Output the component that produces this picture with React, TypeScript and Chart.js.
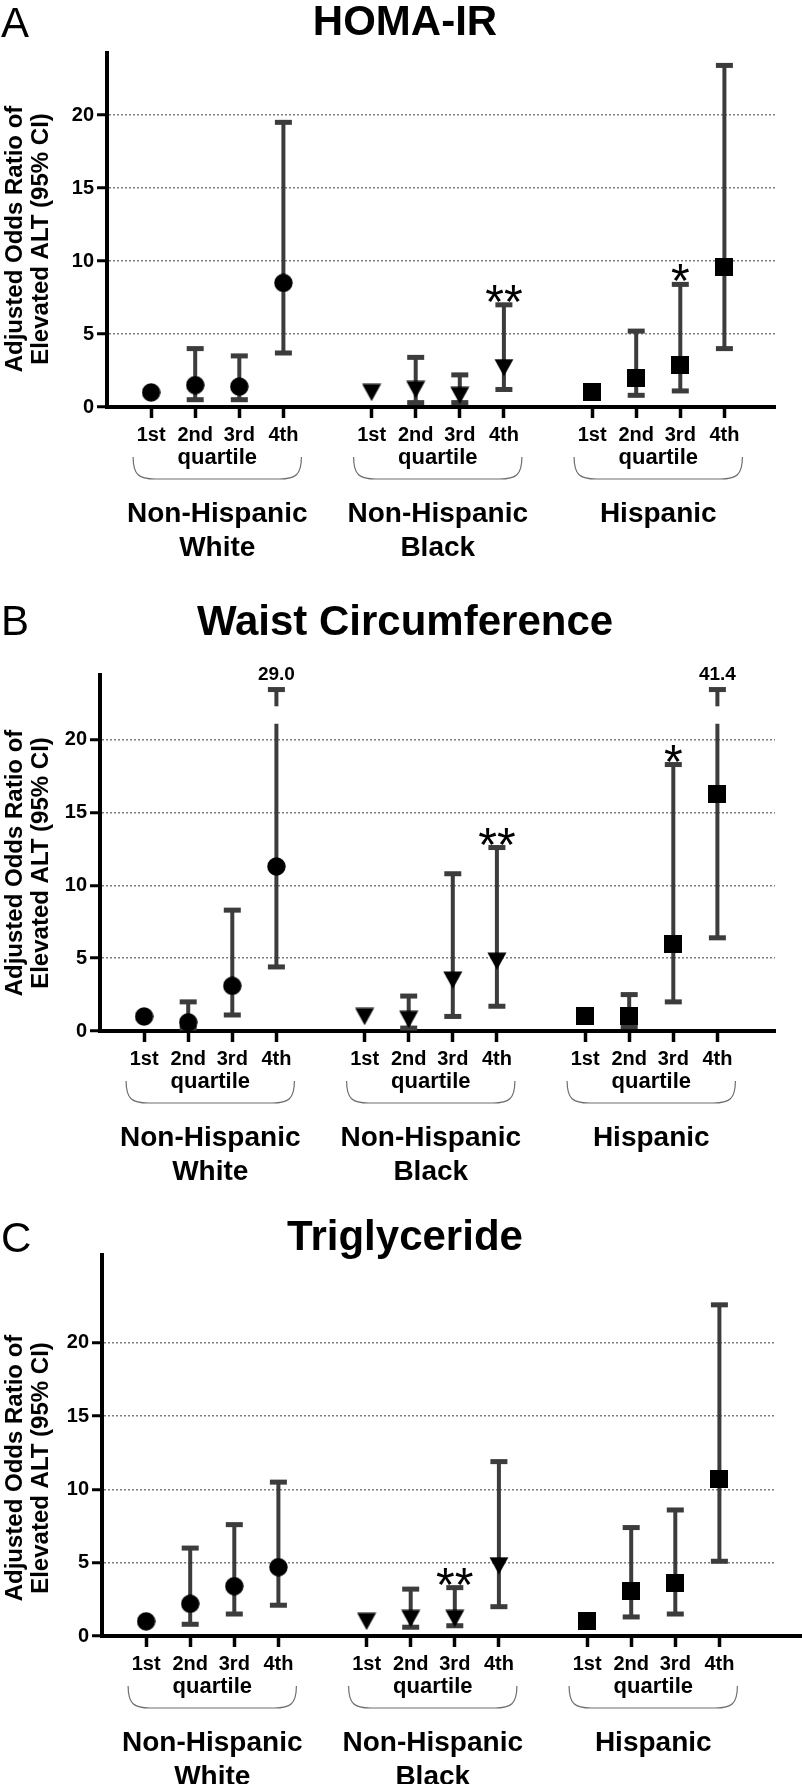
import React, { useEffect, useRef } from "react";
import { Chart, registerables } from "chart.js";

Chart.register(...registerables);

// ---------------- data ----------------
const quartileLabels = ["1st", "2nd", "3rd", "4th", "1st", "2nd", "3rd", "4th", "1st", "2nd", "3rd", "4th"];
const groupNames = [["Non-Hispanic", "White"], ["Non-Hispanic", "Black"], ["Hispanic"]];
const xPositions = [0, 1, 2, 3, 5, 6, 7, 8, 10, 11, 12, 13];
const yTickValues = [0, 5, 10, 15, 20];
const yAxisTitle = ["Adjusted Odds Ratio of", "Elevated ALT (95% CI)"];

const homaOR = [1.0, 1.5, 1.4, 8.5, 1.0, 1.2, 0.8, 2.7, 1.0, 2.0, 2.9, 9.6];
const homaLow = [null, 0.5, 0.5, 3.7, null, 0.3, 0.3, 1.2, null, 0.8, 1.1, 4.0];
const homaHigh = [null, 4.0, 3.5, 19.5, null, 3.4, 2.2, 7.0, null, 5.2, 8.4, 23.4];
const homaSig = ["", "", "", "", "", "", "", "**", "", "", "*", ""];

const waistOR = [1.0, 0.6, 3.1, 11.3, 1.0, 0.8, 3.5, 4.8, 1.0, 1.0, 6.0, 16.3];
const waistLow = [null, 0.2, 1.1, 4.4, null, 0.2, 1.0, 1.7, null, 0.3, 2.0, 6.4];
const waistHigh = [null, 2.0, 8.3, 29.0, null, 2.4, 10.8, 12.6, null, 2.5, 18.3, 41.4];
const waistSig = ["", "", "", "", "", "", "", "**", "", "", "*", ""];

const trigOR = [1.0, 2.2, 3.4, 4.7, 1.0, 1.2, 1.2, 4.8, 1.0, 3.1, 3.6, 10.7];
const trigLow = [null, 0.8, 1.5, 2.1, null, 0.6, 0.7, 2.0, null, 1.3, 1.5, 5.1];
const trigHigh = [null, 6.0, 7.6, 10.5, null, 3.2, 3.3, 11.9, null, 7.4, 8.6, 22.6];
const trigSig = ["", "", "", "", "", "", "**", "", "", "", "", ""];

// axis-break styling (value positions where the broken whisker is drawn)
const BREAK_LOW = 21.1;
const BREAK_HIGH = 22.3;
const BREAK_CAP = 23.45;

// ---------------- layout ----------------
const FONT = "'Liberation Sans', Arial, Helvetica, sans-serif";
const BAR_COLOR = "#3c3c3c";

type PanelCfg = {
  letter: string;
  title: string;
  or: number[];
  low: (number | null)[];
  high: (number | null)[];
  sig: string[];
  height: number;
  area: { left: number; top: number; right: number; bottom: number };
  yMax: number;
  titleBase: number;
  letterBase: number;
  extendAxis: boolean;
};

const panels: PanelCfg[] = [
  {
    letter: "A", title: "HOMA-IR", or: homaOR, low: homaLow, high: homaHigh, sig: homaSig,
    height: 590, area: { left: 107, top: 53, right: 775, bottom: 407 }, yMax: 24.25,
    titleBase: 35, letterBase: 37, extendAxis: false,
  },
  {
    letter: "B", title: "Waist Circumference", or: waistOR, low: waistLow, high: waistHigh, sig: waistSig,
    height: 590, area: { left: 100, top: 85, right: 775, bottom: 441 }, yMax: 24.45,
    titleBase: 45, letterBase: 45, extendAxis: false,
  },
  {
    letter: "C", title: "Triglyceride", or: trigOR, low: trigLow, high: trigHigh, sig: trigSig,
    height: 604, area: { left: 102, top: 75, right: 775, bottom: 456 }, yMax: 26.0,
    titleBase: 70, letterBase: 72, extendAxis: true,
  },
];

function makeMarker(kind: string): HTMLCanvasElement {
  const c = document.createElement("canvas");
  const ctx = c.getContext("2d")!;
  if (kind === "circle") {
    c.width = 19; c.height = 19;
    ctx.fillStyle = "#000";
    ctx.beginPath();
    ctx.ellipse(9.5, 9.5, 9.2, 9.2, 0, 0, Math.PI * 2);
    ctx.fill();
  } else if (kind === "triangle") {
    c.width = 20; c.height = 18;
    ctx.fillStyle = "#000";
    ctx.beginPath();
    ctx.moveTo(0.5, 0.5);
    ctx.lineTo(19.5, 0.5);
    ctx.lineTo(10, 17.8);
    ctx.closePath();
    ctx.fill();
  } else {
    c.width = 18; c.height = 18;
    ctx.fillStyle = "#000";
    ctx.fillRect(0, 0, 18, 18);
  }
  return c;
}

function Panel({ cfg }: { cfg: PanelCfg }) {
  const ref = useRef<HTMLCanvasElement>(null);

  useEffect(() => {
    const canvas = ref.current!;
    const markers = [makeMarker("circle"), makeMarker("triangle"), makeMarker("square")];
    const { area } = cfg;
    const unit = 44.1;
    const xMin = -1;
    const xMax = xMin + (area.right - area.left) / unit;
    const XH = 40;

    const datasets = [0, 1, 2].map((g) => ({
      label: groupNames[g].join(" "),
      data: [0, 1, 2, 3].map((k) => {
        const i = g * 4 + k;
        return { x: xPositions[i], y: cfg.or[i] };
      }),
      pointStyle: markers[g] as any,
      pointRadius: 9,
      pointHoverRadius: 9,
      showLine: false,
      clip: false as any,
      backgroundColor: "#000",
      borderColor: "#000",
    }));

    const errorBars = {
      id: "errorBars",
      beforeDatasetsDraw(chart: any) {
        const ctx = chart.ctx as CanvasRenderingContext2D;
        const xs = chart.scales.x;
        const ys = chart.scales.y;
        ctx.save();
        ctx.strokeStyle = BAR_COLOR;
        ctx.fillStyle = BAR_COLOR;
        ctx.lineWidth = 4;
        const line = (x: number, y1: number, y2: number) => {
          ctx.beginPath();
          ctx.moveTo(x, y1);
          ctx.lineTo(x, y2);
          ctx.stroke();
        };
        const cap = (x: number, y: number) => ctx.fillRect(x - 8.5, y - 2.5, 17, 5);
        for (let i = 0; i < xPositions.length; i++) {
          const lo = cfg.low[i];
          const hi = cfg.high[i];
          const x = xs.getPixelForValue(xPositions[i]);
          if (lo != null && hi != null) {
            const yLo = ys.getPixelForValue(lo);
            if (hi <= ys.max) {
              const yHi = ys.getPixelForValue(hi);
              line(x, yLo, yHi);
              cap(x, yLo);
              cap(x, yHi);
            } else {
              const yB1 = ys.getPixelForValue(BREAK_LOW);
              const yB2 = ys.getPixelForValue(BREAK_HIGH);
              const yC = ys.getPixelForValue(BREAK_CAP);
              line(x, yLo, yB1);
              line(x, yB2, yC);
              cap(x, yLo);
              cap(x, yC);
              ctx.save();
              ctx.fillStyle = "#000";
              ctx.font = `bold 19px ${FONT}`;
              ctx.textAlign = "center";
              ctx.textBaseline = "alphabetic";
              ctx.fillText(hi.toFixed(1), x, yC - 10);
              ctx.restore();
            }
          }
          const s = cfg.sig[i];
          if (s && hi != null) {
            const yTop = ys.getPixelForValue(Math.min(hi, ys.max)) - 14;
            ctx.save();
            ctx.fillStyle = "#000";
            ctx.font = `48px ${FONT}`;
            ctx.textAlign = "center";
            ctx.textBaseline = "alphabetic";
            ctx.fillText(s, x, yTop + 27);
            ctx.restore();
          }
        }
        ctx.restore();
      },
    };

    const annotations = {
      id: "annotations",
      afterDraw(chart: any) {
        const ctx = chart.ctx as CanvasRenderingContext2D;
        const xs = chart.scales.x;
        const ys = chart.scales.y;
        const zero = ys.getPixelForValue(0);
        ctx.save();
        ctx.fillStyle = "#000";
        ctx.textBaseline = "alphabetic";
        // panel letter
        ctx.font = `42px ${FONT}`;
        ctx.textAlign = "left";
        ctx.fillText(cfg.letter, 1, cfg.letterBase);
        // title
        ctx.font = `bold 42px ${FONT}`;
        ctx.textAlign = "center";
        ctx.fillText(cfg.title, 405, cfg.titleBase);
        // y axis title
        ctx.save();
        ctx.translate(15, zero - 168);
        ctx.rotate(-Math.PI / 2);
        ctx.font = `bold 24px ${FONT}`;
        ctx.textAlign = "center";
        ctx.textBaseline = "middle";
        ctx.fillText(yAxisTitle[0], 0, 0);
        ctx.fillText(yAxisTitle[1], 0, 26);
        ctx.restore();
        // group braces + labels
        for (let g = 0; g < 3; g++) {
          const first = xs.getPixelForValue(xPositions[g * 4]);
          const last = xs.getPixelForValue(xPositions[g * 4 + 3]);
          const cx = (first + last) / 2;
          ctx.font = `bold 22px ${FONT}`;
          ctx.textAlign = "center";
          ctx.fillText("quartile", cx, zero + 57);
          const x1 = first - 18;
          const x2 = last + 18;
          const yT = zero + 50;
          const yB = zero + 72;
          ctx.save();
          ctx.strokeStyle = "#6e6e6e";
          ctx.lineWidth = 1.2;
          ctx.beginPath();
          ctx.moveTo(x1, yT);
          ctx.bezierCurveTo(x1, yB - 4, x1 + 6, yB, x1 + 22, yB);
          ctx.lineTo(x2 - 22, yB);
          ctx.bezierCurveTo(x2 - 6, yB, x2, yB - 4, x2, yT);
          ctx.stroke();
          ctx.restore();
          ctx.font = `bold 28px ${FONT}`;
          groupNames[g].forEach((t, k) => ctx.fillText(t, cx, zero + 115 + k * 34));
        }
        if (cfg.extendAxis) {
          ctx.strokeStyle = "#000";
          ctx.lineWidth = 4;
          ctx.beginPath();
          ctx.moveTo(chart.chartArea.right - 1, zero);
          ctx.lineTo(802, zero);
          ctx.stroke();
        }
        ctx.restore();
      },
    };

    const chart = new Chart(canvas, {
      type: "scatter",
      data: { datasets: datasets as any },
      options: {
        responsive: false,
        animation: false,
        devicePixelRatio: 1,
        events: [],
        layout: {
          padding: {
            left: 0,
            top: area.top,
            right: 802 - area.right,
            bottom: cfg.height - area.bottom - XH,
          },
        },
        plugins: { legend: { display: false }, tooltip: { enabled: false }, title: { display: false } },
        scales: {
          x: {
            type: "linear",
            min: xMin,
            max: xMax,
            afterFit: (s: any) => { s.height = XH; },
            afterBuildTicks: (s: any) => { s.ticks = xPositions.map((v) => ({ value: v })); },
            grid: {
              display: true,
              drawOnChartArea: false,
              drawTicks: true,
              tickLength: 11,
              tickWidth: 3.5,
              tickColor: "#000",
            },
            border: { display: true, color: "#000", width: 4 },
            ticks: {
              autoSkip: false,
              maxRotation: 0,
              minRotation: 0,
              padding: 5,
              color: "#000",
              font: { family: FONT, size: 20, weight: "bold" },
              callback: (_v: any, i: number) => quartileLabels[i],
            },
          },
          y: {
            type: "linear",
            min: 0,
            max: cfg.yMax,
            afterFit: (s: any) => { s.width = area.left; },
            afterBuildTicks: (s: any) => { s.ticks = yTickValues.map((v) => ({ value: v })); },
            grid: {
              display: true,
              drawOnChartArea: true,
              drawTicks: true,
              color: (c: any) => (c.tick && c.tick.value === 0 ? "rgba(0,0,0,0)" : "#7d7d7d"),
              lineWidth: 1.5,
              tickLength: 10,
              tickWidth: 3,
              tickColor: "#000",
              tickBorderDash: [],
            },
            border: { display: true, color: "#000", width: 4, dash: [2, 2] },
            ticks: {
              padding: 3,
              color: "#000",
              font: { family: FONT, size: 20, weight: "bold" },
            },
          },
        },
      } as any,
      plugins: [errorBars, annotations],
    });
    return () => chart.destroy();
  }, [cfg]);

  return (
    <canvas
      ref={ref}
      width={802}
      height={cfg.height}
      style={{ display: "block", width: 802, height: cfg.height }}
    />
  );
}

export default function App() {
  useEffect(() => {
    document.body.style.margin = "0";
    document.body.style.background = "#fff";
  }, []);
  return (
    <div style={{ width: 802, height: 1784, background: "#fff" }}>
      {panels.map((p) => (
        <Panel key={p.letter} cfg={p} />
      ))}
    </div>
  );
}
